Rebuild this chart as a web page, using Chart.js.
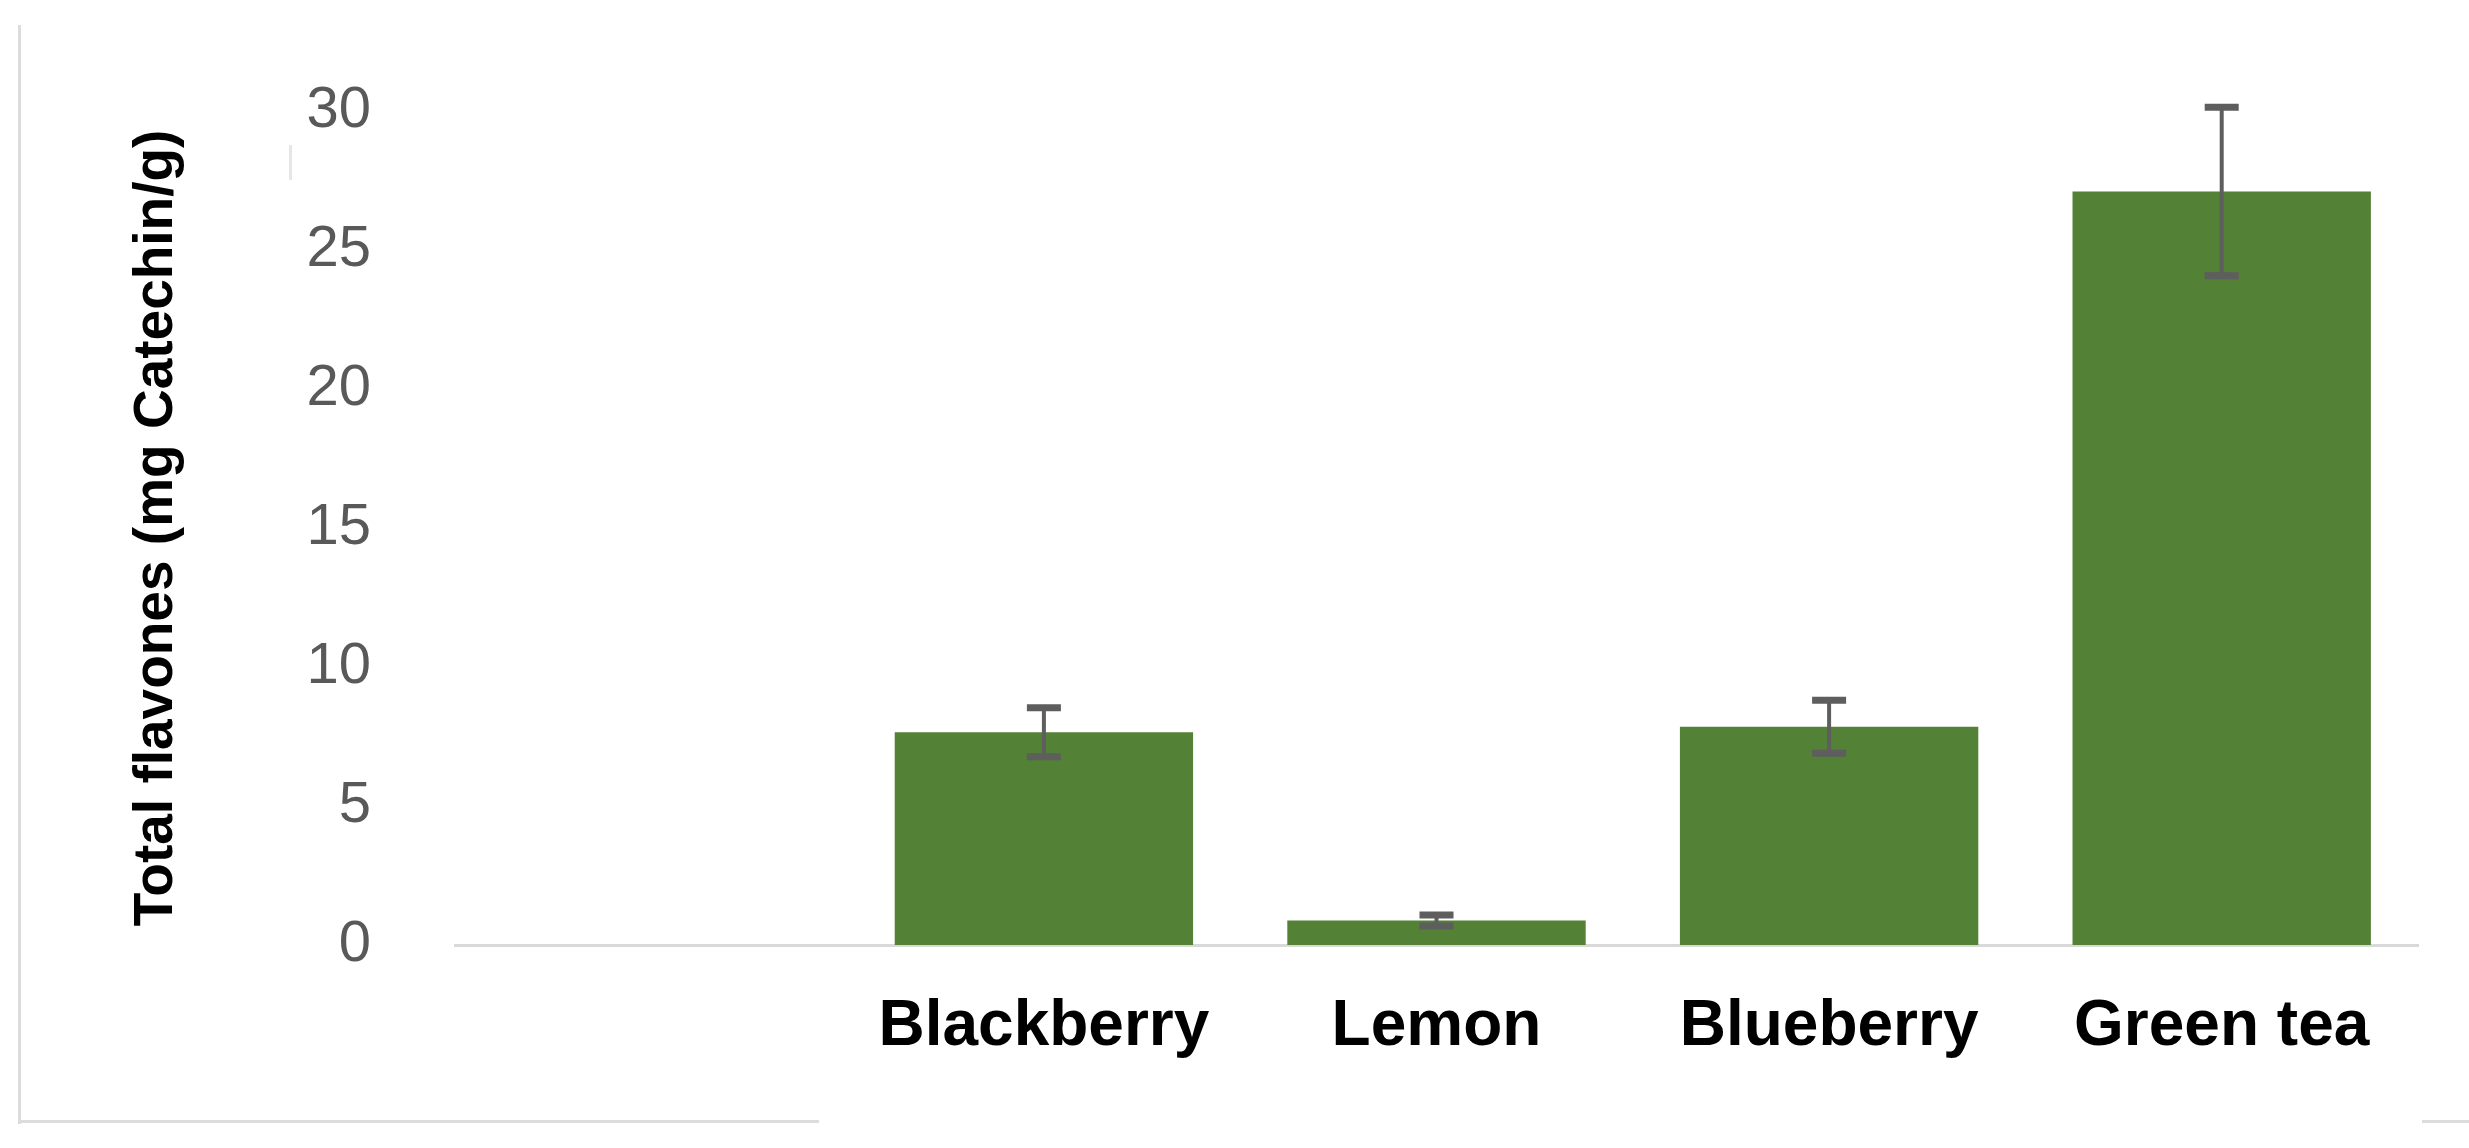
<!DOCTYPE html>
<html>
<head>
<meta charset="utf-8">
<script src="https://cdn.jsdelivr.net/npm/chart.js@4"></script>
<style>
  html, body { margin: 0; padding: 0; background: #fff; }
  #wrap { position: relative; width: 2469px; height: 1148px; }
  .edge { position: absolute; background: #dcdcdc; }
</style>
</head>
<body>
<div id="wrap">
  <canvas id="flavChart" width="2469" height="1148"></canvas>
  <!-- leftover frame bits from the original figure -->
  <div class="edge" style="left:18px; top:25px; width:3px; height:1099px;"></div>
  <div class="edge" style="left:18px; top:1120px; width:801px; height:3px;"></div>
  <div class="edge" style="left:2422px; top:1120px; width:47px; height:3px;"></div>
  <div class="edge" style="left:289px; top:145px; width:3px; height:35px; background:#e6e6e6;"></div>
</div>
<script>
// first slot is empty in the original figure
const categories = ['', 'Blackberry', 'Lemon', 'Blueberry', 'Green tea'];
const flavones = [null, 7.65, 0.88, 7.85, 27.1];
const flavonesSD = [null, 0.88, 0.2, 0.95, 3.03];
const yTicks = [0, 5, 10, 15, 20, 25, 30];

// simple error bar drawing, uses the y scale of the chart
const errorBars = {
    id: 'errorBars',
    afterDatasetsDraw(chart) {
        const ctx = chart.ctx;
        const yScale = chart.scales.y;
        const meta = chart.getDatasetMeta(0);
        ctx.save();
        ctx.strokeStyle = '#5e5e5e';
        meta.data.forEach((bar, i) => {
            const v = flavones[i];
            const sd = flavonesSD[i];
            if (v === null || sd === null) return;
            const top = yScale.getPixelForValue(v + sd);
            const bottom = yScale.getPixelForValue(v - sd);
            const half = 17;
            ctx.lineWidth = 4;
            ctx.beginPath();
            ctx.moveTo(bar.x, top);
            ctx.lineTo(bar.x, bottom);
            ctx.stroke();
            ctx.lineWidth = 7;
            ctx.beginPath();
            ctx.moveTo(bar.x - half, top);
            ctx.lineTo(bar.x + half, top);
            ctx.moveTo(bar.x - half, bottom);
            ctx.lineTo(bar.x + half, bottom);
            ctx.stroke();
        });
        ctx.restore();
    }
};

const ctx = document.getElementById('flavChart').getContext('2d');
new Chart(ctx, {
    type: 'bar',
    data: {
        labels: categories,
        datasets: [{
            data: flavones,
            backgroundColor: '#538135',
            borderWidth: 0,
            categoryPercentage: 1.0,
            barPercentage: 0.76,
        }],
    },
    options: {
        responsive: false,
        animation: false,
        devicePixelRatio: 1,
        layout: {
            padding: { left: 20, right: 51, top: 98, bottom: 0 },
        },
        plugins: {
            legend: { display: false },
            tooltip: { enabled: false },
        },
        scales: {
            x: {
                grid: { display: false },
                border: { display: true, color: '#d9d9d9', width: 3 },
                ticks: {
                    color: '#000',
                    padding: 36,
                    maxRotation: 0,
                    autoSkip: false,
                    font: { family: 'Liberation Sans, Arial, sans-serif', size: 64, weight: 'bold' },
                },
                afterFit(scale) { scale.height = 203; },
            },
            y: {
                min: 0,
                max: 30,
                afterBuildTicks(scale) { scale.ticks = yTicks.map(v => ({ value: v })); },
                grid: { display: false },
                border: { display: false },
                ticks: {
                    color: '#595959',
                    padding: 76,
                    font: { family: 'Liberation Sans, Arial, sans-serif', size: 58 },
                },
                title: {
                    display: true,
                    text: 'Total flavones (mg Catechin/g)',
                    color: '#000',
                    padding: { top: 104, bottom: 0 },
                    font: { family: 'Liberation Sans, Arial, sans-serif', size: 55, weight: 'bold' },
                },
                afterFit(scale) { scale.width = 435; },
            },
        },
    },
    plugins: [errorBars],
});
</script>
</body>
</html>
